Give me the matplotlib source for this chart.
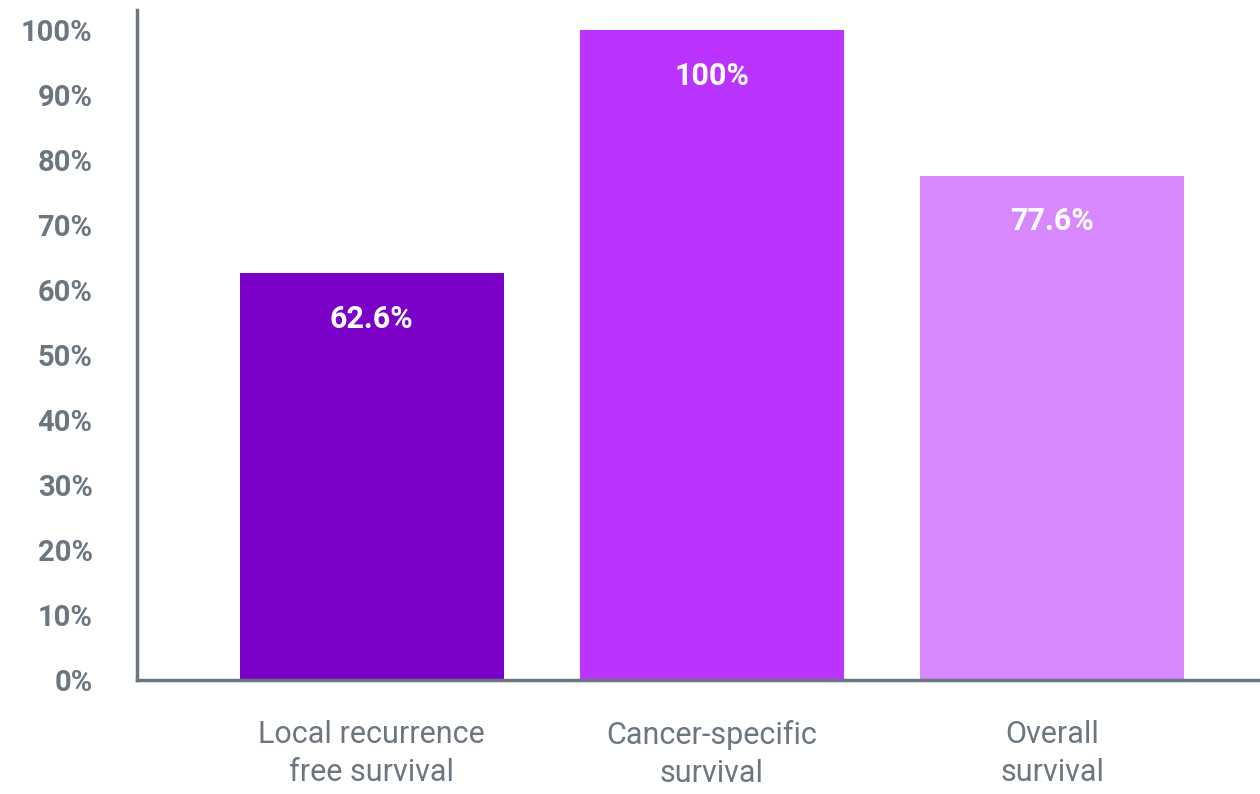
import matplotlib.pyplot as plt

# data
categories = ["Local recurrence\nfree survival", "Cancer-specific\nsurvival", "Overall\nsurvival"]
values = [62.6, 100, 77.6]
value_labels = ["62.6%", "100%", "77.6%"]
colors = ["#7b00c8", "#bb33ff", "#d688fc"]
yticks = [0, 10, 20, 30, 40, 50, 60, 70, 80, 90, 100]

plt.rcParams["font.family"] = ["Roboto", "DejaVu Sans"]

gray = "#6b7680"

fig = plt.figure(figsize=(12.6, 7.94), dpi=100)
ax = fig.add_axes([137 / 1260, 114 / 794, 1 - 137 / 1260, 670 / 794])

x = range(len(values))
ax.bar(x, values, width=0.776, color=colors)

# value labels inside the bars
for i, v in enumerate(values):
    ax.text(i, v - 7, value_labels[i], ha="center", va="center",
            color="white", fontsize=22, fontweight="bold")

ax.set_xlim(-0.69, 2.61)
ax.set_ylim(0, 103.1)
ax.set_yticks(yticks)
ax.set_yticklabels([f"{t}%" for t in yticks], fontsize=21, fontweight="bold", color=gray)
ax.set_xticks(list(x))
ax.set_xticklabels(categories, fontsize=22, color=gray, linespacing=1.4)
ax.tick_params(axis="both", length=0)
ax.tick_params(axis="y", pad=32)
ax.tick_params(axis="x", pad=29)

for s in ["top", "right"]:
    ax.spines[s].set_visible(False)
for s in ["left", "bottom"]:
    ax.spines[s].set_color(gray)
    ax.spines[s].set_linewidth(2.5)

fig.savefig("out.png", dpi=100)
